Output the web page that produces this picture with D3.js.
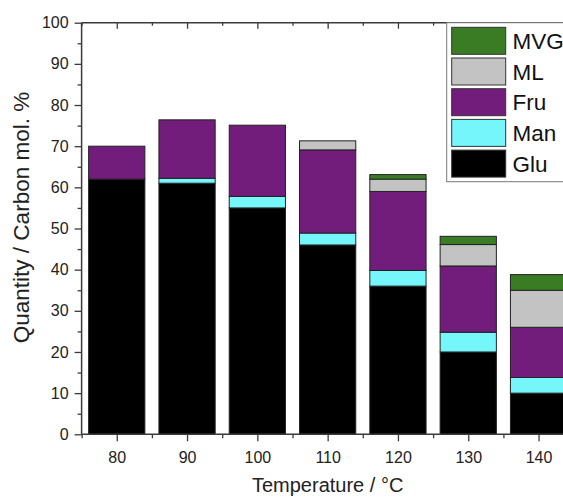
<!DOCTYPE html>
<html>
<head>
<meta charset="utf-8">
<script src="https://cdn.jsdelivr.net/npm/d3@7"></script>
<style>
  html, body { margin: 0; padding: 0; background: #fff; }
  svg { display: block; font-family: Arial, "Liberation Sans", sans-serif; }
</style>
</head>
<body>
<svg id="chart" width="563" height="497"></svg>
<script>
// ---- data ----
const temps = [80, 90, 100, 110, 120, 130, 140];
const glu = [62, 61, 55, 46, 36, 20, 10];
const man = [0, 1.2, 2.8, 2.9, 3.8, 4.8, 3.8];
const fru = [8, 14.2, 17.3, 20.2, 19.2, 16.1, 12.2];
const ml  = [0, 0, 0, 2.2, 3.0, 5.2, 9.0];
const mvg = [0, 0, 0, 0, 1.1, 2.0, 3.8];
const seriesNames = ["Glu", "Man", "Fru", "ML", "MVG"];
const seriesColors = ["#000000", "#74f6fb", "#721c7b", "#c3c3c3", "#3a7c24"];
const yTicks = [0, 10, 20, 30, 40, 50, 60, 70, 80, 90, 100];
const xTicks = [80, 90, 100, 110, 120, 130, 140];
const xTitle = "Temperature / °C";
const yTitle = "Quantity / Carbon mol. %";

// ---- layout ----
const pLeft = 81.6, pTop = 22.7, pBottom = 434.3;
const pxPerUnit = 7.03;
const pRight = pLeft + 70 * pxPerUnit;

const svg = d3.select("#chart");
const x = d3.scaleLinear().domain([75, 145]).range([pLeft, pRight]);
const y = d3.scaleLinear().domain([0, 100]).range([pBottom, pTop]);
const barW = 8 * pxPerUnit;

const rows = temps.map((t, i) => ({ t, Glu: glu[i], Man: man[i], Fru: fru[i], ML: ml[i], MVG: mvg[i] }));
const stacked = d3.stack().keys(seriesNames)(rows);

const gBars = svg.append("g");
stacked.forEach((s, si) => {
  gBars.selectAll(null)
    .data(s.filter(d => d[1] - d[0] > 0))
    .enter().append("rect")
    .attr("x", d => x(d.data.t) - barW / 2)
    .attr("width", barW)
    .attr("y", d => y(d[1]))
    .attr("height", d => y(d[0]) - y(d[1]))
    .attr("fill", seriesColors[si])
    .attr("stroke", "#222")
    .attr("stroke-width", 1);
});

// ---- axes ----
const axisColor = "#3a3a3a";
function styleAxis(g) {
  g.select(".domain").remove();
  g.selectAll("line").attr("stroke", axisColor).attr("stroke-width", 1.3);
  g.selectAll("text").attr("fill", "#222").style("font-size", "16px").style("font-family", "Arial, 'Liberation Sans', sans-serif");
}
const yMinor = d3.range(5, 100, 10);
const xMinor = d3.range(75, 150, 10);

// left
svg.append("g").attr("transform", `translate(${pLeft},0)`)
  .call(d3.axisLeft(y).tickValues(yTicks).tickSize(7).tickPadding(6).tickFormat(d3.format("d")))
  .call(styleAxis);
svg.append("g").attr("transform", `translate(${pLeft},0)`)
  .call(d3.axisLeft(y).tickValues(yMinor).tickSize(4).tickFormat(""))
  .call(styleAxis);
// bottom
svg.append("g").attr("transform", `translate(0,${pBottom})`)
  .call(d3.axisBottom(x).tickValues(xTicks).tickSize(7).tickPadding(10).tickFormat(d3.format("d")))
  .call(styleAxis);
svg.append("g").attr("transform", `translate(0,${pBottom})`)
  .call(d3.axisBottom(x).tickValues(xMinor).tickSize(4).tickFormat(""))
  .call(styleAxis);
// top (inward)
svg.append("g").attr("transform", `translate(0,${pTop})`)
  .call(d3.axisBottom(x).tickValues(xTicks).tickSize(6).tickFormat(""))
  .call(styleAxis);
svg.append("g").attr("transform", `translate(0,${pTop})`)
  .call(d3.axisBottom(x).tickValues(xMinor).tickSize(3).tickFormat(""))
  .call(styleAxis);
// frame lines
const frame = svg.append("g").attr("stroke", axisColor).attr("stroke-width", 1.5);
frame.append("line").attr("x1", pLeft).attr("x2", pLeft).attr("y1", pTop).attr("y2", pBottom);
frame.append("line").attr("x1", pLeft).attr("x2", pRight).attr("y1", pBottom).attr("y2", pBottom);
frame.append("line").attr("x1", pLeft).attr("x2", pRight).attr("y1", pTop).attr("y2", pTop);
frame.append("line").attr("x1", pRight).attr("x2", pRight).attr("y1", pTop).attr("y2", pBottom);

// ---- titles ----
svg.append("text")
  .attr("x", (pLeft + pRight) / 2).attr("y", 492)
  .attr("text-anchor", "middle")
  .style("font-size", "20px").attr("fill", "#222")
  .text(xTitle);
svg.append("text")
  .attr("transform", `translate(29,217.5) rotate(-90)`)
  .attr("text-anchor", "middle")
  .style("font-size", "22.5px").attr("fill", "#222")
  .text(yTitle);

// ---- legend ----
const lg = svg.append("g");
lg.append("rect")
  .attr("x", 446.7).attr("y", pTop).attr("width", 200).attr("height", 181.7 - pTop)
  .attr("fill", "#fff").attr("stroke", "#777").attr("stroke-width", 1);
const legendOrder = ["MVG", "ML", "Fru", "Man", "Glu"];
legendOrder.forEach((name, i) => {
  const yy = 27.3 + i * 30.7;
  lg.append("rect")
    .attr("x", 451.7).attr("y", yy).attr("width", 54).attr("height", 27)
    .attr("fill", seriesColors[seriesNames.indexOf(name)])
    .attr("stroke", "#333").attr("stroke-width", 1);
  lg.append("text")
    .attr("x", 512.5).attr("y", yy + 13.5).attr("dy", "0.36em")
    .style("font-size", "22.5px").attr("fill", "#111")
    .text(name);
});
</script>
</body>
</html>
